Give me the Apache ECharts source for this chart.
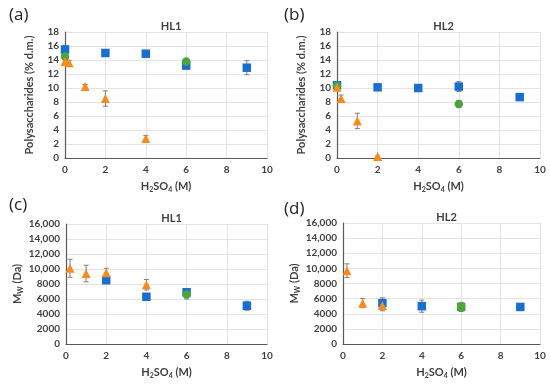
<!DOCTYPE html>
<html><head><meta charset="utf-8">
<script src="https://cdn.jsdelivr.net/npm/echarts@6/dist/echarts.min.js"></script>
<style>html,body{margin:0;padding:0;background:#fff}#c{width:550px;height:385px}</style>
</head><body><div id="c"></div>
<script>
// [x, y, err]
const aBlue   = [[0,15.5,0.6],[2,15.0,0.2],[4,14.9,0.2],[6,13.2,0.4],[9,12.9,1.0]];
const aGreen  = [[0,14.5,0.2],[6,13.8,0.2]];
const aOrange = [[0,13.8,0.2],[0.2,13.6,0.3],[1,10.2,0.3],[2,8.5,1.1],[4,2.8,0.4]];

const bBlue   = [[0,10.4,0.3],[2,10.1,0.3],[4,10.0,0.5],[6,10.2,0.7],[9,8.7,0.5]];
const bGreen  = [[0,10.3,0.2],[6,7.7,0.5]];
const bOrange = [[0,10.1,0.2],[0.2,8.5,0.5],[1,5.3,1.1],[2,0.2,0.1]];

const cBlue   = [[2,8500,200],[4,6300,400],[6,6900,300],[9,5100,600]];
const cGreen  = [[6,6600,600]];
const cOrange = [[0.2,10100,1200],[1,9400,1100],[2,9500,600],[4,7900,700]];

const dBlue   = [[2,5400,700],[4,5000,800],[9,4900,300]];
const dGreen  = [[6,4900,600]];
const dOrange = [[0.2,9700,900],[1,5400,600],[2,5100,700]];

const panelTitles = ['HL1','HL2','HL1','HL2'];

const BLUE='#1a6fce', GREEN='#4ca43c', ORANGE='#f68b1f';
const grids = [
  {left:65, top:32, width:202, height:126},
  {left:337, top:32, width:203, height:126},
  {left:66, top:224, width:201, height:120},
  {left:343, top:223, width:197, height:121}
];
const axisFont = 'Lato, "Open Sans", sans-serif';
const lab = {color:'#404040', fontWeight:'bold', fontSize:10, fontFamily:axisFont};
const xName = '{a|H}{s|2}{a|SO}{s|4}{a| (M)}';
const rich = {
  a:{fontSize:11, fontWeight:'bold', color:'#404040', fontFamily:axisFont},
  s:{fontSize:7, fontWeight:'bold', color:'#404040', fontFamily:axisFont, padding:[6,0,0,0]}
};

const xAxes = [], yAxes = [], series = [], titles = [];
grids.forEach((g,i)=>{
  const isMw = i>=2;
  xAxes.push({gridIndex:i, type:'value', min:0, max:10, interval:2,
    axisLine:{show:true, onZero:false, lineStyle:{color:'#595959', width:1.2}},
    axisTick:{show:false},
    axisLabel:Object.assign({margin:7}, lab),
    splitLine:{show:true, lineStyle:{color:'#e3e3e3'}},
    name:xName, nameLocation:'middle', nameGap:22,
    nameTextStyle:{rich:rich}
  });
  yAxes.push({gridIndex:i, type:'value', min:0, max:isMw?16000:18, interval:isMw?2000:2,
    axisLine:{show:true, lineStyle:{color:'#595959', width:1.2}},
    axisTick:{show:false},
    axisLabel:Object.assign({margin:6, formatter:v=> (v>=10000? v.toLocaleString('en-US'): String(v))}, lab),
    splitLine:{show:true, lineStyle:{color:'#e3e3e3'}},
    name: isMw ? '{a|M}{s|W}{a| (Da)}' : 'Polysaccharides (% d.m.)',
    nameLocation:'middle', nameGap: isMw?42:30,
    nameTextStyle: isMw ? {rich:rich} : {fontSize:11, fontWeight:'bold', color:'#404040', fontFamily:axisFont}
  });
  titles.push({text:panelTitles[i], left:g.left+g.width/2, top:g.top-16, textAlign:'center',
    textStyle:{fontSize:11, fontWeight:'bold', color:'#404040', fontFamily:axisFont}});
});
const letterStyle = {fontSize:17, fontWeight:'normal', color:'#222', fontFamily:'"Open Sans", sans-serif'};
titles.push({text:'(a)', left:4, top:2, textStyle:letterStyle});
titles.push({text:'(b)', left:279, top:2, textStyle:letterStyle});
titles.push({text:'(c)', left:4, top:192, textStyle:letterStyle});
titles.push({text:'(d)', left:279, top:196, textStyle:letterStyle});

function errSeries(data, idx){
  return {type:'custom', xAxisIndex:idx, yAxisIndex:idx, z:1, silent:true,
    data:data.map(d=>[d[0], d[1]-d[2], d[1]+d[2]]),
    encode:{x:0, y:[1,2]},
    renderItem:(params, api)=>{
      const lo = api.coord([api.value(0), api.value(1)]);
      const hi = api.coord([api.value(0), api.value(2)]);
      const w = 2.5;
      const st = {stroke:'#7f7f7f', lineWidth:1};
      return {type:'group', children:[
        {type:'line', shape:{x1:lo[0], y1:lo[1], x2:hi[0], y2:hi[1]}, style:st},
        {type:'line', shape:{x1:lo[0]-w, y1:lo[1], x2:lo[0]+w, y2:lo[1]}, style:st},
        {type:'line', shape:{x1:hi[0]-w, y1:hi[1], x2:hi[0]+w, y2:hi[1]}, style:st}
      ]};
    }};
}
function sc(data, idx, color, symbol, size){
  return {type:'scatter', xAxisIndex:idx, yAxisIndex:idx, z:3, symbol:symbol, symbolSize:size,
    itemStyle:{color:color, opacity:1}, data:data.map(d=>[d[0],d[1]])};
}
const sets = [[aBlue,aGreen,aOrange],[bBlue,bGreen,bOrange],[cBlue,cGreen,cOrange],[dBlue,dGreen,dOrange]];
sets.forEach((s,i)=>{
  s.forEach(d=>series.push(errSeries(d,i)));
  series.push(sc(s[0], i, BLUE, 'rect', 8.5));
  series.push(sc(s[1], i, GREEN, i===3?'rect':'circle', 8.5));
  series.push(sc(s[2], i, ORANGE, 'triangle', 9));
});

const chart = echarts.init(document.getElementById('c'), null, {renderer:'canvas'});
chart.setOption({animation:false, backgroundColor:'#fff', title:titles, grid:grids, xAxis:xAxes, yAxis:yAxes, series:series});
</script></body></html>
